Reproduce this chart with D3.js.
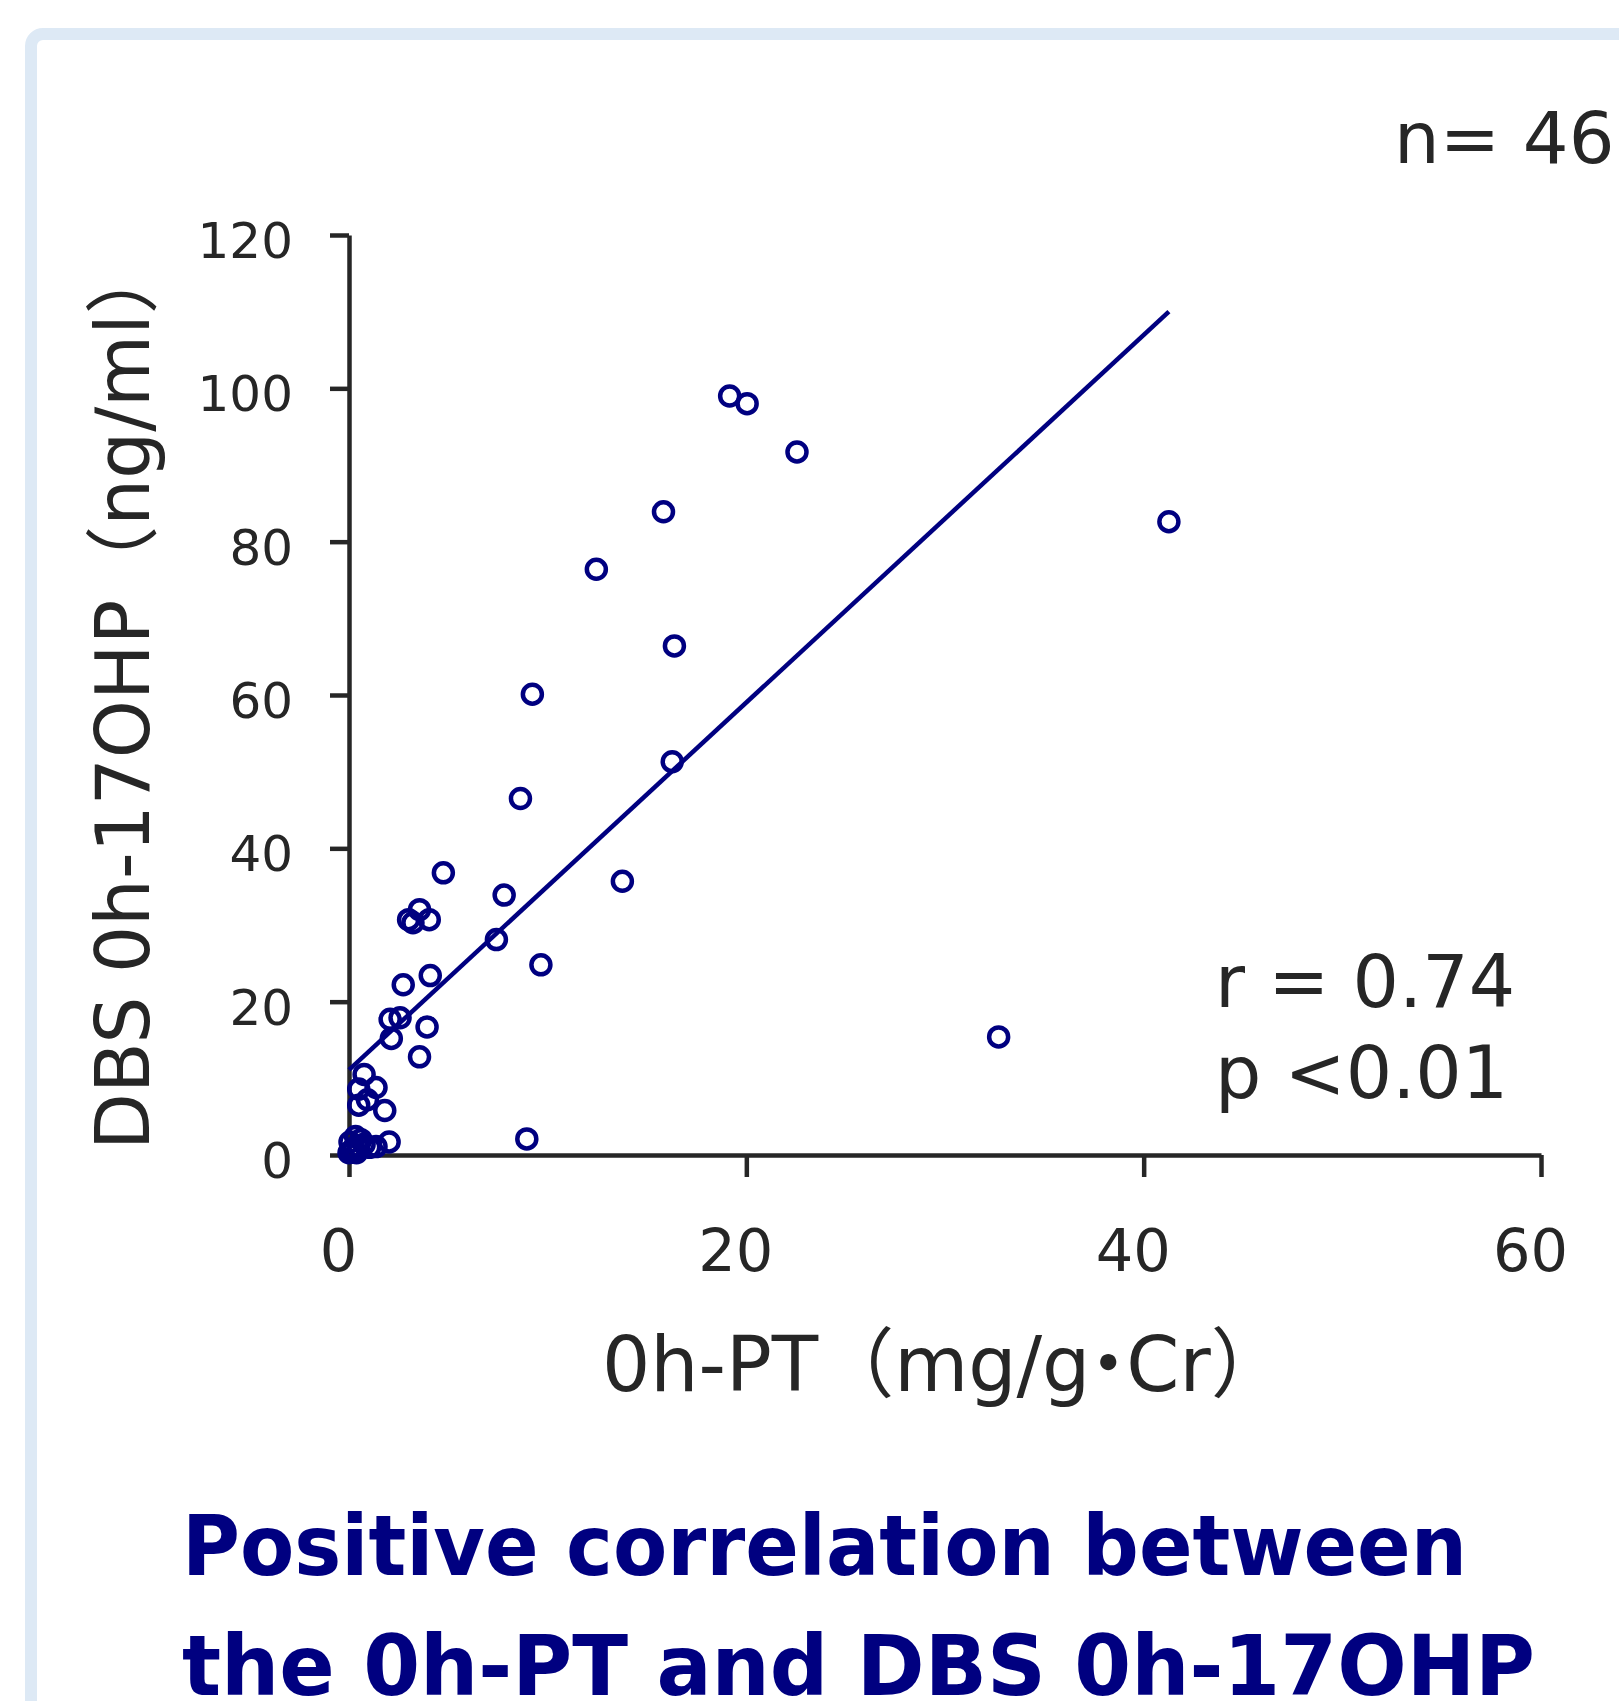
<!DOCTYPE html>
<html lang="ja">
  <head>
    <meta charset="UTF-8" />
    <title>0h-PT vs DBS 0h-17OHP</title>
    <style>
      body {
        margin: 0;
        background: #fff;
      }
      text {
        font-family: "DejaVu Sans", "Noto Sans CJK JP", sans-serif;
        fill: #262626;
      }
      .axis path,
      .axis line {
        stroke: #262626;
        stroke-width: 4.5;
      }
      .dot {
        fill: none;
        stroke: #000080;
        stroke-width: 4.5;
      }
      .fit {
        stroke: #000080;
        stroke-width: 4.5;
      }
    </style>
  </head>
  <body>
    <div id="container"></div>
    <script src="https://cdnjs.cloudflare.com/ajax/libs/d3/7.8.5/d3.min.js"></script>
    <script>
      // 0h-PT (mg/g・Cr) and DBS 0h-17OHP (ng/ml), n = 46
      const ptValues = [
        19.16, 20.04, 22.55, 15.83, 41.27, 12.45, 16.38, 9.23, 16.27, 8.63,
        4.75, 13.76, 7.81, 3.55, 3.0, 3.22, 4.04, 7.42, 9.66, 2.73,
        4.09, 2.07, 2.57, 3.93, 2.13, 3.55, 32.7, 8.95,
        0.76, 0.49, 1.36, 0.93, 0.49, 1.8,
        2.02, 1.36, 0.6, 0.33, 0.05, 0.22, 0.0, 0.49, 0.76, 0.16, 0.38, 1.04
      ];
      const ohpValues = [
        99.0, 98.0, 91.7, 83.9, 82.6, 76.4, 66.4, 60.1, 51.3, 46.5,
        36.8, 35.7, 33.9, 32.0, 30.7, 30.3, 30.7, 28.1, 24.8, 22.2,
        23.4, 17.7, 17.9, 16.7, 15.2, 12.8, 15.4, 2.1,
        10.5, 8.6, 8.8, 7.2, 6.5, 5.8,
        1.7, 1.1, 2.0, 2.4, 1.7, 0.85, 0.3, 1.1, 1.4, 0.4, 0.3, 1.0
      ];
      // regression line end points
      const fitX = [0, 41.27];
      const fitY = [11.1, 110.0];

      const xTicks = [0, 20, 40, 60];
      const yTicks = [0, 20, 40, 60, 80, 100, 120];

      const width = 1619,
        height = 1701;
      const plotLeft = 349,
        plotRight = 1541,
        plotTop = 235,
        plotBottom = 1155;

      const svg = d3
        .select("#container")
        .append("svg")
        .attr("width", width)
        .attr("height", height);

      // light blue frame
      svg
        .append("rect")
        .attr("x", 31)
        .attr("y", 34)
        .attr("width", 1800)
        .attr("height", 1900)
        .attr("rx", 12)
        .attr("fill", "#fff")
        .attr("stroke", "#dde9f5")
        .attr("stroke-width", 12);

      const x = d3.scaleLinear().domain([0, 60]).range([plotLeft, plotRight]);
      const y = d3.scaleLinear().domain([0, 120]).range([plotBottom, plotTop]);

      // x axis
      const gx = svg
        .append("g")
        .attr("class", "axis")
        .attr("transform", `translate(0,${plotBottom})`)
        .call(
          d3.axisBottom(x).tickValues(xTicks).tickSize(22).tickSizeOuter(0).tickPadding(0)
        );
      gx.selectAll(".tick text")
        .attr("y", 116)
        .attr("dy", 0)
        .attr("dx", -11)
        .style("font-size", "59px")
        .attr("fill", "#262626");

      // y axis
      const gy = svg
        .append("g")
        .attr("class", "axis")
        .attr("transform", `translate(${plotLeft},0)`)
        .call(
          d3.axisLeft(y).tickValues(yTicks).tickSize(19).tickSizeOuter(0).tickPadding(37)
        );
      gy.selectAll(".tick text")
        .attr("dy", "0.45em")
        .style("font-size", "50px")
        .attr("fill", "#262626");
      svg.selectAll(".axis .domain").attr("fill", "none");

      // regression line
      svg
        .append("line")
        .attr("class", "fit")
        .attr("x1", x(fitX[0]))
        .attr("y1", y(fitY[0]))
        .attr("x2", x(fitX[1]))
        .attr("y2", y(fitY[1]));

      // points
      svg
        .append("g")
        .selectAll("circle")
        .data(ptValues)
        .join("circle")
        .attr("class", "dot")
        .attr("cx", (d) => x(d))
        .attr("cy", (d, i) => y(ohpValues[i]))
        .attr("r", 9.5);

      // axis titles
      const xTitle = svg
        .append("text")
        .attr("x", 602)
        .attr("y", 1391)
        .style("font-size", "76px");
      xTitle.append("tspan").text("0h-PT（mg/g");
      xTitle.append("tspan").attr("dx", -20).text("・");
      xTitle.append("tspan").attr("dx", -20).text("Cr）");

      svg
        .append("text")
        .attr("transform", "translate(149,1150) rotate(-90)")
        .style("font-size", "74px")
        .text("DBS 0h-17OHP（ng/ml）");

      // annotations
      svg
        .append("text")
        .attr("x", 1394)
        .attr("y", 163)
        .style("font-size", "72px")
        .text("n= 46");

      svg
        .append("text")
        .attr("x", 1215)
        .attr("y", 1007)
        .style("font-size", "73px")
        .text("r = 0.74");

      svg
        .append("text")
        .attr("x", 1215)
        .attr("y", 1098)
        .style("font-size", "73px")
        .text("p <0.01");

      // caption
      const caption = ["Positive correlation between", "the 0h-PT and DBS 0h-17OHP"];
      const captionLen = [1285, 1353];
      svg
        .selectAll(".caption")
        .data(caption)
        .join("text")
        .attr("class", "caption")
        .attr("x", 182)
        .attr("y", (d, i) => 1575 + i * 120)
        .attr("textLength", (d, i) => captionLen[i])
        .attr("lengthAdjust", "spacingAndGlyphs")
        .style("font-size", "84px")
        .style("font-weight", "bold")
        .style("fill", "#000080")
        .text((d) => d);
    </script>
  </body>
</html>
